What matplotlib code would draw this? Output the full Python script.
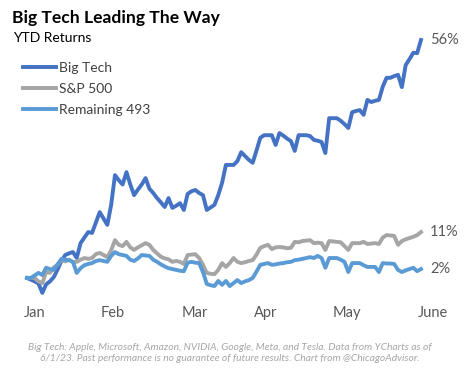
import numpy as np
import matplotlib
matplotlib.use("Agg")
import matplotlib.pyplot as plt

# YTD returns (%), one value per trading day, Jan 3 - Jun 1 2023
big_tech = [
    0, -0.4, -0.8, -1.3, -3.5, -1.5, -0.8, 0.2, 2.0, 4.0,
    5.4, 5.8, 6.1, 4.7, 8.2, 9.5, 10.8, 10.6, 13.0, 15.5,
    14.0, 12.5, 17.2, 24.2, 23.0, 22.0, 24.9, 22.0, 19.5, 20.8,
    22.0, 23.5, 21.0, 20.0, 18.8, 17.8, 16.7, 18.8, 16.5, 17.0,
    17.6, 16.0, 19.8, 20.4, 20.7, 20.0, 19.5, 16.0, 16.6, 17.2,
    19.5, 22.4, 26.6, 26.6, 26.6, 27.5, 29.6, 28.7, 27.8, 27.1,
    30.0, 33.0, 33.6, 33.6, 33.6, 31.3, 34.1, 33.5, 32.8, 32.2,
    29.9, 33.6, 33.6, 33.6, 33.4, 32.5, 32.3, 32.0, 29.4, 37.6,
    37.6, 37.6, 37.0, 36.2, 35.3, 39.0, 39.3, 39.5, 38.4, 41.9,
    41.4, 41.7, 41.9, 45.0, 47.1, 47.1, 47.5, 47.8, 44.9, 50.1,
    51.5, 53.0, 52.9, 56.0,
]
sp500 = [
    0, 0.0, 0.0, -0.8, -1.2, 1.4, 1.2, 2.5, 3.1, 4.2,
    3.9, 4.3, 3.7, 3.8, 4.3, 4.7, 4.5, 4.7, 5.6, 5.9,
    5.4, 4.9, 6.5, 8.9, 7.8, 7.5, 8.5, 7.2, 6.6, 7.2,
    7.7, 8.2, 7.8, 6.6, 5.8, 5.0, 4.6, 4.4, 3.8, 4.0,
    3.8, 3.3, 5.4, 5.5, 5.6, 4.7, 3.1, 1.2, 1.0, 0.9,
    1.9, 3.5, 2.6, 3.5, 4.7, 3.8, 3.5, 3.7, 4.0, 4.2,
    5.5, 7.1, 7.5, 7.8, 6.8, 7.2, 7.3, 7.2, 7.0, 7.1,
    8.5, 8.4, 8.7, 8.8, 8.9, 8.2, 8.3, 8.2, 6.6, 8.7,
    8.6, 8.5, 8.4, 7.5, 6.6, 8.2, 8.2, 8.2, 8.5, 8.0,
    8.1, 8.2, 8.0, 9.5, 10.1, 10.0, 9.9, 7.8, 8.7, 9.1,
    9.4, 9.7, 10.1, 10.8,
]
remaining = [
    0, 0, 0.6, 1.2, 0.7, 2.4, 2.1, 1.9, 3.2, 4.5,
    4.3, 4.2, 3.8, 1.2, 2.3, 3.0, 3.3, 3.5, 4.0, 4.2,
    4.0, 3.8, 5.2, 6.1, 5.6, 5.4, 5.2, 4.3, 4.0, 4.6,
    5.4, 5.3, 5.2, 4.3, 3.8, 3.2, 2.7, 2.3, 2.1, 1.9,
    1.7, 1.6, 3.6, 3.8, 3.6, 3.5, 1.4, -1.4, -1.7, -1.9,
    -0.7, -1.6, -0.7, -1.9, -1.2, -0.5, -1.2, -0.8, -0.5, 0,
    1.5, 3.1, 3.3, 3.5, 3.1, 3.2, 3.4, 3.5, 3.7, 3.8,
    4.2, 4.3, 4.5, 4.7, 4.9, 4.7, 5.2, 4.7, 2.4, 4.7,
    4.7, 4.7, 4.3, 3.8, 1.4, 3.5, 3.5, 3.5, 3.0, 2.6,
    2.6, 2.6, 1.4, 3.5, 3.4, 3.4, 3.3, 1.9, 1.4, 1.8,
    2.1, 2.4, 1.6, 2.1,
]
months = ["Jan", "Feb", "Mar", "Apr", "May", "June"]
month_pos = [2.1, 22.5, 43.9, 62.5, 83.7, 106.1]

series = [
    ("Big Tech", big_tech, "#4472C4", "56%"),
    ("S&P 500", sp500, "#A5A5A5", "11%"),
    ("Remaining 493", remaining, "#5B9BD5", "2%"),
]

W, H = 474, 382
fig = plt.figure(figsize=(W / 100, H / 100), dpi=100)
plt.rcParams["font.family"] = ["Lato", "DejaVu Sans"]

# axes placed in pixels: left 20, right 440, top 30, bottom 300
ax = fig.add_axes([20 / W, 1 - 300 / H, 420 / W, 270 / H])
ax.set_xlim(-1.83, 107.97)
ax.set_ylim(-5.18, 58.35)

days = np.arange(len(big_tech))
for name, vals, color, end in series:
    ax.plot(days, vals, color=color, lw=2.8, label=name, solid_joinstyle="round")
    ax.text(days[-1] + 2.4, vals[-1], end, color="#595959", fontsize=10.5,
            va="center", ha="left")

ax.set_xticks(month_pos)
ax.set_xticklabels(months)
ax.tick_params(axis="x", length=0, pad=4, labelsize=10.5, labelcolor="#595959")
ax.set_yticks([])
for s in ax.spines.values():
    s.set_visible(False)

fig.text(12 / W, 1 - 18 / H, "Big Tech Leading The Way", fontsize=12.6,
         fontweight="bold", va="center", ha="left", color="black")
fig.text(13 / W, 1 - 38 / H, "YTD Returns", fontsize=10, va="center",
         ha="left", color="black")

leg = ax.legend(loc="upper left", bbox_to_anchor=(23 / W, 1 - 62 / H),
                bbox_transform=fig.transFigure, frameon=False, fontsize=10,
                handlelength=2.4, handletextpad=0.2, labelspacing=0.65,
                borderpad=0, borderaxespad=0)
for t in leg.get_texts():
    t.set_color("#404040")

fig.text(230 / W, 1 - 353 / H,
         "Big Tech: Apple, Microsoft, Amazon, NVIDIA, Google, Meta, and Tesla. Data from YCharts as of\n"
         "6/1/23. Past performance is no guarantee of future results. Chart from @ChicagoAdvisor.",
         fontsize=7.4, style="italic", color="#A6A6A6", ha="center", va="center",
         linespacing=1.25)

fig.savefig("out.png", dpi=100, facecolor="white")
